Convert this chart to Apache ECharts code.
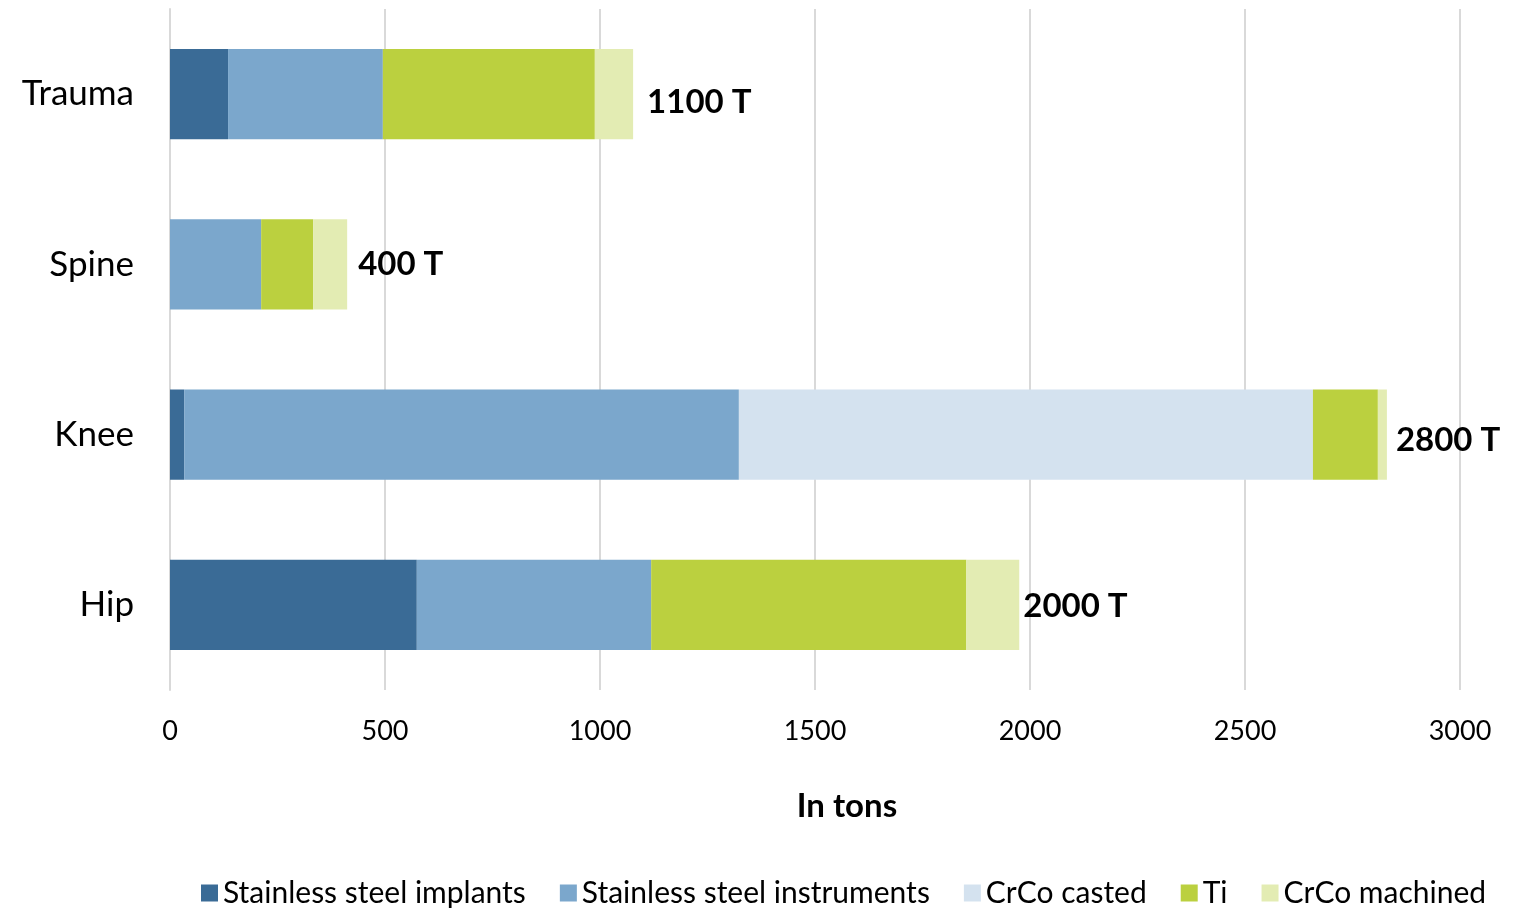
<!DOCTYPE html>
<html>
<head>
<meta charset="utf-8">
<script src="https://cdn.jsdelivr.net/npm/echarts@6/dist/echarts.min.js"></script>
<style>html,body{margin:0;padding:0;background:#fff}#c{width:1514px;height:908px}</style>
</head>
<body>
<div id="c"></div>
<script>
const categories = ['Trauma', 'Spine', 'Knee', 'Hip'];
const ssImplants = [135, 0, 33, 574];
const ssInstruments = [360, 212, 1290, 545];
const crcoCasted = [0, 0, 1335, 0];
const ti = [493, 121, 151, 733];
const crcoMachined = [89, 79, 21, 123];
const totalLabels = ['1100 T', '400 T', '2800 T', '2000 T'];
const seriesNames = ['Stainless steel implants', 'Stainless steel instruments', 'CrCo casted', 'Ti', 'CrCo machined'];
const colors = ['#3A6B96', '#7BA7CC', '#D4E2EF', '#BBD03F', '#E3ECB3'];
const xTicks = [0, 500, 1000, 1500, 2000, 2500, 3000];

const FONT = 'Lato';
// hand-placed label nudges (pixels), as in the original layout
const labelNudge = [[4, 8], [1, 0], [-1, 6], [-6, 1]];

const chart = echarts.init(document.getElementById('c'), null, {renderer: 'canvas'});
const datasets = [ssImplants, ssInstruments, crcoCasted, ti, crcoMachined];
const series = datasets.map((d, i) => ({
  name: seriesNames[i],
  type: 'bar',
  stack: 'total',
  barCategoryGap: '47%',
  data: i === 4 ? d.map((v, j) => ({value: v, label: {offset: labelNudge[j]}})) : d,
  itemStyle: {color: colors[i]},
  emphasis: {disabled: true},
  label: i === 4 ? {
    show: true, position: 'right', distance: 10,
    formatter: p => totalLabels[p.dataIndex],
    fontFamily: FONT, fontWeight: 'bold', fontSize: 33, color: '#000'
  } : {show: false}
}));

chart.setOption({
  animation: false,
  color: colors,
  textStyle: {fontFamily: FONT},
  grid: {left: 170, right: 54, top: 9, bottom: 218, containLabel: false},
  xAxis: {
    type: 'value', min: xTicks[0], max: xTicks[xTicks.length - 1], interval: 500,
    axisLine: {show: false}, axisTick: {show: false},
    splitLine: {show: true, lineStyle: {color: '#D9D9D9', width: 2}},
    axisLabel: {fontFamily: FONT, fontSize: 27, color: '#000', margin: 28, formatter: v => String(v)}
  },
  yAxis: {
    type: 'category', data: categories, inverse: true,
    axisLine: {show: true, lineStyle: {color: '#D9D9D9', width: 2}},
    axisTick: {show: false},
    axisLabel: {fontFamily: FONT, fontSize: 35, color: '#000', margin: 36}
  },
  legend: {
    data: seriesNames, bottom: -5, left: 196,
    itemWidth: 17, itemHeight: 17, itemGap: 34, icon: 'rect',
    textStyle: {fontFamily: FONT, fontSize: 30, color: '#000'}
  },
  graphic: [{
    type: 'text', x: 847, y: 806,
    style: {text: 'In tons', font: 'bold 33px Lato', fill: '#000', textAlign: 'center', textVerticalAlign: 'middle'}
  }],
  series: series
});
</script>
</body>
</html>
